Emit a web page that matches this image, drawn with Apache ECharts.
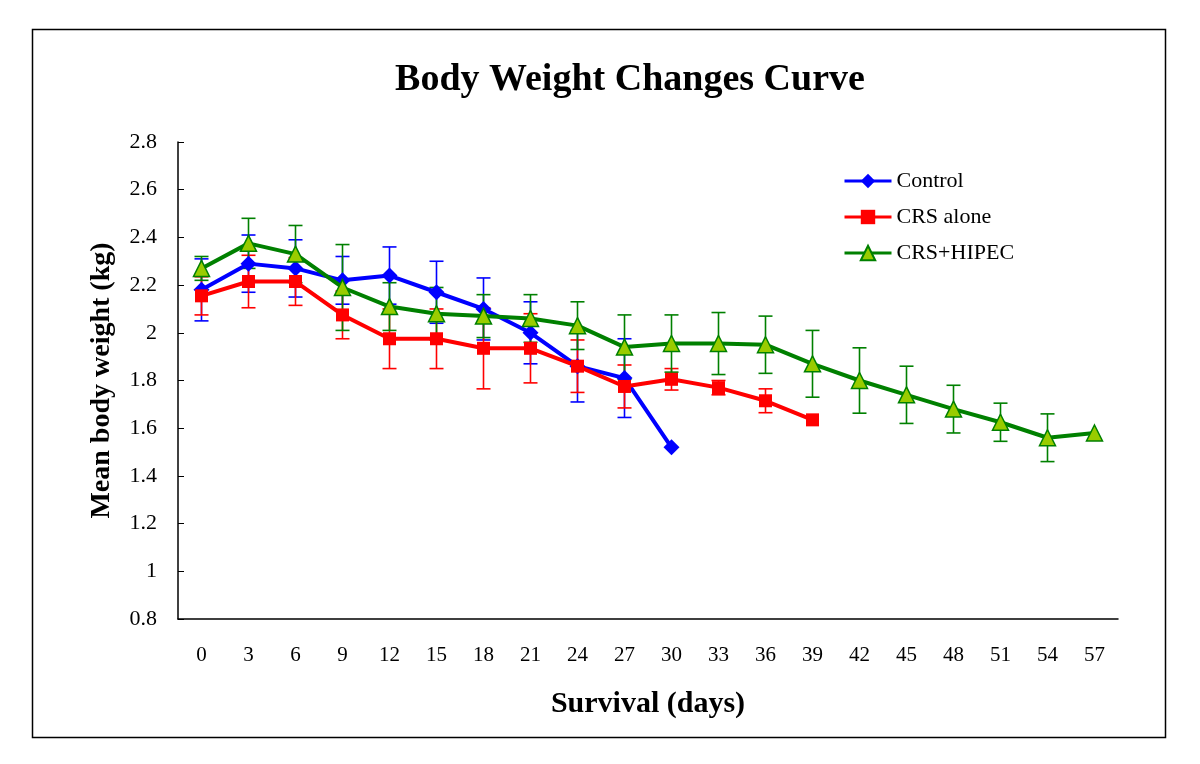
<!DOCTYPE html>
<html>
<head>
<meta charset="utf-8">
<script src="https://cdn.jsdelivr.net/npm/echarts@6/dist/echarts.min.js"></script>
<style>
html,body{margin:0;padding:0;background:#fff;}
#chart{width:1200px;height:764px;}
</style>
</head>
<body>
<div id="chart"></div>
<script>
const days = ['0','3','6','9','12','15','18','21','24','27','30','33','36','39','42','45','48','51','54','57'];
const controlMean = [2.18, 2.29, 2.27, 2.22, 2.24, 2.17, 2.10, 2.00, 1.86, 1.81, 1.52];
const controlErr  = [0.13, 0.12, 0.12, 0.10, 0.12, 0.13, 0.13, 0.13, 0.15, 0.165, 0];
const crsMean = [2.155, 2.215, 2.215, 2.075, 1.975, 1.975, 1.935, 1.935, 1.86, 1.775, 1.805, 1.77, 1.715, 1.635];
const crsErr  = [0.08, 0.11, 0.10, 0.10, 0.125, 0.125, 0.17, 0.145, 0.11, 0.09, 0.045, 0.03, 0.05, 0];
const hipecMean = [2.27, 2.375, 2.33, 2.19, 2.11, 2.08, 2.07, 2.06, 2.03, 1.94, 1.955, 1.955, 1.95, 1.87, 1.80, 1.74, 1.68, 1.625, 1.56, 1.58];
const hipecErr  = [0.05, 0.105, 0.12, 0.18, 0.10, 0.11, 0.09, 0.10, 0.10, 0.135, 0.12, 0.13, 0.12, 0.14, 0.137, 0.12, 0.10, 0.08, 0.10, 0];
const yTicks = [0.8, 1, 1.2, 1.4, 1.6, 1.8, 2, 2.2, 2.4, 2.6, 2.8];

const FONT = 'Liberation Serif';

function errData(means, errs){
  return means.map((m, i) => [i, m, errs[i]]);
}
function errSeries(name, means, errs, color){
  return {
    type: 'custom',
    name: name + ' err',
    z: 1,
    silent: true,
    encode: {x: 0, y: 1},
    data: errData(means, errs),
    renderItem: function(params, api){
      const i = api.value(0), m = api.value(1), e = api.value(2);
      if (!e) return null;
      const top = api.coord([i, m + e]);
      const bot = api.coord([i, m - e]);
      const hw = 7;
      const st = {stroke: color, lineWidth: 1.6};
      return {
        type: 'group',
        children: [
          {type: 'line', shape: {x1: top[0], y1: top[1], x2: bot[0], y2: bot[1]}, style: st},
          {type: 'line', shape: {x1: top[0]-hw, y1: top[1], x2: top[0]+hw, y2: top[1]}, style: st},
          {type: 'line', shape: {x1: bot[0]-hw, y1: bot[1], x2: bot[0]+hw, y2: bot[1]}, style: st}
        ]
      };
    }
  };
}

const chart = echarts.init(document.getElementById('chart'));
chart.setOption({
  animation: false,
  backgroundColor: '#fff',
  title: {
    text: 'Body Weight Changes Curve',
    left: 625,
    textAlign: 'center',
    top: 56,
    textStyle: {fontFamily: FONT, fontSize: 38, fontWeight: 'bold', color: '#000'}
  },
  graphic: [{
    type: 'rect',
    shape: {x: 32.5, y: 29.5, width: 1133, height: 708},
    style: {fill: 'none', stroke: '#000', lineWidth: 1.5},
    z: 0
  }],
  legend: {
    orient: 'vertical',
    left: 838,
    top: 165,
    itemWidth: 47,
    itemHeight: 18,
    itemGap: 14,
    lineStyle: {width: 3},
    textStyle: {fontFamily: FONT, fontSize: 22, color: '#000'},
    data: ['Control', 'CRS alone', 'CRS+HIPEC']
  },
  grid: {left: 178, right: 82, top: 142, bottom: 145},
  xAxis: {
    type: 'category',
    data: days,
    boundaryGap: true,
    name: 'Survival (days)',
    nameLocation: 'middle',
    nameGap: 70,
    nameTextStyle: {fontFamily: FONT, fontSize: 30, fontWeight: 'bold', color: '#000'},
    axisLine: {lineStyle: {color: '#000', width: 1.5}},
    axisTick: {inside: true, length: 6, lineStyle: {color: '#000'}, alignWithLabel: false},
    axisLabel: {fontFamily: FONT, fontSize: 21, color: '#000', margin: 26, interval: 0},
    splitLine: {show: false}
  },
  yAxis: {
    type: 'value',
    min: 0.8,
    max: 2.8,
    interval: 0.2,
    name: 'Mean body weight (kg)',
    nameLocation: 'middle',
    nameGap: 62,
    nameTextStyle: {fontFamily: FONT, fontSize: 28, fontWeight: 'bold', color: '#000'},
    axisLine: {show: true, lineStyle: {color: '#000', width: 1.5}},
    axisTick: {show: true, inside: true, length: 6, lineStyle: {color: '#000'}},
    axisLabel: {
      fontFamily: FONT, fontSize: 22, color: '#000', margin: 21,
      formatter: function(v){ return String(Number(v.toFixed(1))); }
    },
    splitLine: {show: false}
  },
  series: [
    errSeries('Control', controlMean, controlErr, '#0000FF'),
    errSeries('CRS alone', crsMean, crsErr, '#FF0000'),
    errSeries('CRS+HIPEC', hipecMean, hipecErr, '#008000'),
    {
      name: 'Control', type: 'line', z: 3,
      data: controlMean,
      symbol: 'diamond', symbolSize: 16,
      lineStyle: {color: '#0000FF', width: 4},
      itemStyle: {color: '#0000FF'}
    },
    {
      name: 'CRS alone', type: 'line', z: 3,
      data: crsMean,
      symbol: 'rect', symbolSize: 13,
      lineStyle: {color: '#FF0000', width: 4},
      itemStyle: {color: '#FF0000'}
    },
    {
      name: 'CRS+HIPEC', type: 'line', z: 4,
      data: hipecMean,
      symbol: 'triangle', symbolSize: 16,
      lineStyle: {color: '#008000', width: 4},
      itemStyle: {color: '#99CC00', borderColor: '#008000', borderWidth: 1.5}
    }
  ]
});
</script>
</body>
</html>
